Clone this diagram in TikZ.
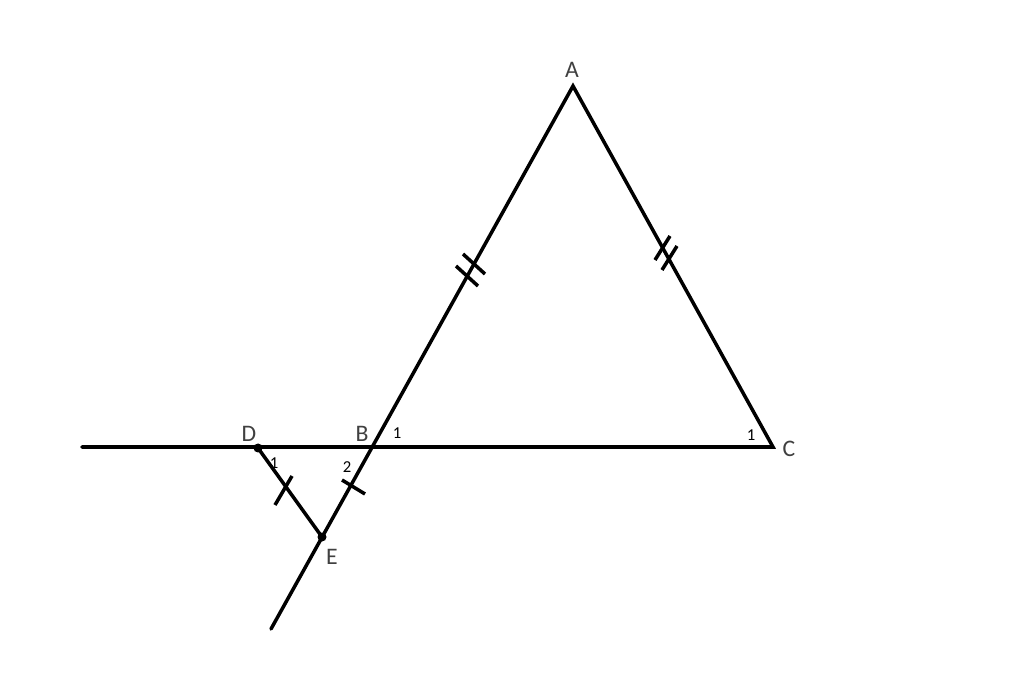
\documentclass[tikz,border=0pt]{standalone}
\usepackage{fontspec}
\setmainfont{Carlito}
\begin{document}
\begin{tikzpicture}[x=0.02cm,y=-0.02cm,
  seg/.style={line width=2pt,line cap=round},
  tick/.style={line width=2pt},
  lbl/.style={font=\fontsize{13.5}{14}\selectfont, text=black!75},
  num/.style={font=\fontsize{9.5}{10}\selectfont}]
\useasboundingbox (0,0) rectangle (1024,685);
\coordinate (A) at (573,86);
\coordinate (C) at (773,447);
\coordinate (B) at (371,447);
\coordinate (D) at (258,448);
\coordinate (E) at (322,537);
\coordinate (L) at (82,447);
\coordinate (F) at (271,629);
\draw[seg] (L) -- (C) -- (A) -- (F);
\draw[seg] (D) -- (E);
\fill (D) circle (4.5);
\fill (E) circle (4.5);
% ticks
\draw[tick] (275,505) -- (292,476);
\draw[tick] (342,480) -- (365,494);
\draw[tick] (463,254) -- (485,274);
\draw[tick] (456,266) -- (478,286);
\draw[tick] (655,260) -- (670,236);
\draw[tick] (662,270) -- (677,246);
% labels
\node[lbl] (lA) at (572,70) {A};
\node[lbl] (lB) at (362,434) {B};
\node[lbl] (lC) at (789,449) {C};
\node[lbl] (lD) at (249,434) {D};
\node[lbl] (lE) at (332,557) {E};
\node[num] (n1) at (397,433) {1};
\node[num] (n2) at (751,435) {1};
\node[num] (n3) at (274,463) {1};
\node[num] (n4) at (347,467) {2};
\end{tikzpicture}
\end{document}
